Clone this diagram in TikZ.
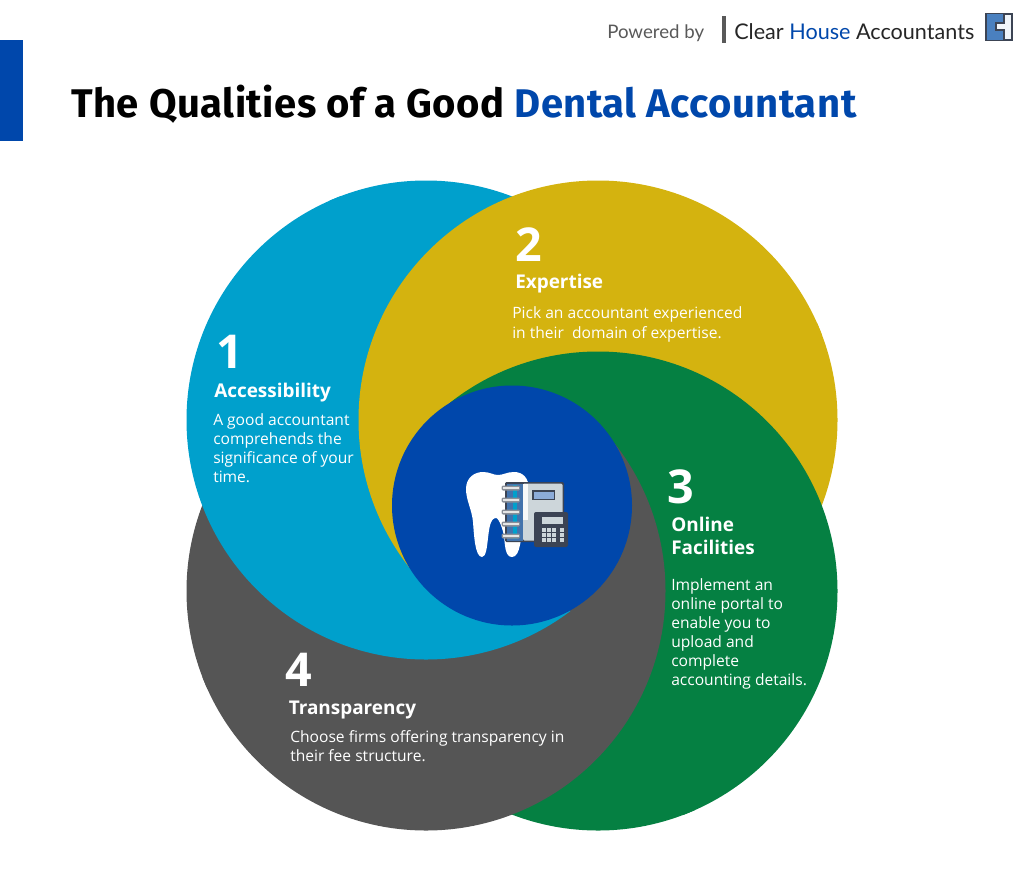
\documentclass[tikz,border=0pt]{standalone}
\usepackage{fontspec}
\setmainfont{Open Sans}
\newfontfamily\titlefont[LetterSpace=1.3]{Fira Sans}
\newfontfamily\logofont{Lato}
\usetikzlibrary{positioning}
\definecolor{royalblue}{RGB}{0,71,171}
\definecolor{petalcyan}{RGB}{0,160,204}
\definecolor{petalgold}{RGB}{212,179,15}
\definecolor{petalgreen}{RGB}{5,128,66}
\definecolor{petalgray}{RGB}{85,85,85}
\definecolor{logoblue}{RGB}{74,128,191}
\definecolor{inkdark}{RGB}{60,68,84}
\definecolor{pagegray}{RGB}{205,214,218}
\begin{document}
\begin{tikzpicture}[x=0.75pt, y=-0.75pt,
    numeral/.style={anchor=base west, inner sep=0pt, text=white, font=\fontsize{35}{35}\selectfont\bfseries},
    heading/.style={anchor=base west, inner sep=0pt, text=white, align=left, font=\fontsize{14.2}{17.2}\selectfont\bfseries},
    bodytext/.style={anchor=north west, inner sep=0pt, text=white, align=left, font=\fontsize{11.7}{14.25}\selectfont}]
    \useasboundingbox (0,0) rectangle (1024,868);

    % Overlapping circles, each wedge has its own stacking order
    \coordinate (hubpoint) at (512,505.5);
    \coordinate (cyancentre) at (426,420);
    \coordinate (goldcentre) at (598,420);
    \coordinate (greencentre) at (598,591);
    \coordinate (graycentre) at (426,591);
    \foreach \ang/\cola/\pta/\colb/\ptb/\colc/\ptc/\cold/\ptd in {
        60/petalgold/goldcentre/petalgreen/greencentre/petalgray/graycentre/petalcyan/cyancentre,
        150/petalgreen/greencentre/petalgray/graycentre/petalcyan/cyancentre/petalgold/goldcentre,
        240/petalgray/graycentre/petalcyan/cyancentre/petalgold/goldcentre/petalgreen/greencentre,
        -30/petalcyan/cyancentre/petalgold/goldcentre/petalgreen/greencentre/petalgray/graycentre}{
        \begin{scope}
            \clip (hubpoint) -- ([shift={(\ang-1:900)}]hubpoint) -- ([shift={(\ang+45:1300)}]hubpoint) -- ([shift={(\ang+91:900)}]hubpoint) -- cycle;
            \begin{scope}[transparency group]
                \fill[\cola] (\pta) circle (239.5);
                \fill[\colb] (\ptb) circle (239.5);
                \fill[\colc] (\ptc) circle (239.5);
                \fill[\cold] (\ptd) circle (239.5);
            \end{scope}
        \end{scope}
    }
    \node[circle, fill=royalblue, minimum size=180pt, inner sep=0pt] (hub) at (hubpoint) {};

    % Tooth
    \fill[white] (466,489) .. controls (466,478) and (474,472) .. (483,472)
        .. controls (490,472) and (493,475) .. (498,475)
        .. controls (503,475) and (507,472) .. (514,472)
        .. controls (523,472) and (529,478) .. (529,490)
        .. controls (529,500) and (525,510) .. (523,522)
        .. controls (521,535) and (521,557) .. (512,557)
        .. controls (505,557) and (505,545) .. (504,536)
        .. controls (503,530) and (499,518) .. (496,518)
        .. controls (490,518) and (489,530) .. (488,538)
        .. controls (487,547) and (486,557) .. (482,557)
        .. controls (475,557) and (474,535) .. (473,522)
        .. controls (472,510) and (466,500) .. (466,489) -- cycle;
    % Notebook
    \fill[rounded corners=1pt, inkdark] (505,482) rectangle (564,542);
    \fill[rounded corners=1pt, pagegray] (523,483.5) rectangle (562.5,540.5);
    \fill[white!85!pagegray] (523,483.5) rectangle (528,520);
    \fill[logoblue!90!black] (506.5,483.5) rectangle (523,540.5);
    \fill[petalcyan] (513,485) rectangle (517,539);
    \fill[inkdark] (532,490) rectangle (555,500);
    \fill[royalblue!45!white] (533.5,491.5) rectangle (553.5,498.5);
    \foreach \ringy in {488,500,512,524,536}{
        \fill[rounded corners=1pt, inkdark!60!white] (501.5,\ringy-2.5) rectangle (520,\ringy+2.5);
        \fill[white!90!black] (503,\ringy-1) rectangle (518.5,\ringy+1);
    }
    % Calculator
    \fill[rounded corners=1.5pt, inkdark] (534,512) rectangle (568,547);
    \fill[pagegray] (542,517) rectangle (563,523.5);
    \foreach \keyx in {542,547,552}{
        \foreach \keyy in {528,533,538}{
            \fill[pagegray] (\keyx,\keyy) rectangle ++(4,4);
        }
    }
    \foreach \keyy in {528,533,538}{
        \fill[pagegray] (560,\keyy) rectangle ++(4,4);
    }

    % Header
    \fill[royalblue] (0,40) rectangle (23,141);
    \node[anchor=base west, inner sep=0pt, font=\titlefont\fontsize{30}{30}\selectfont\bfseries] (title) at (71,117)
        {The Qualities of a Good \textcolor{royalblue}{Dental Accountant}};

    % Logo
    \node[anchor=base west, inner sep=0pt, text=black!65, font=\logofont\fontsize{14}{14}\selectfont] (powered) at (607,38) {Powered by};
    \fill[black!65] (722,16) rectangle (726,43);
    \node[anchor=base west, inner sep=0pt, text=black!85, font=\logofont\fontsize{16.2}{16.2}\selectfont] (brand) at (734,39)
        {Clear \textcolor{royalblue}{House} Accountants};
    \fill[logoblue, draw=inkdark, line width=1pt] (986,13.5) rectangle (1012.5,40.5);
    \fill[white!92!logoblue, draw=inkdark, line width=1pt] (1004,14) -- (1012,14) -- (1012,40) -- (1004,40) -- (1004,30) -- (996,30) -- (996,23) -- (1004,23) -- cycle;

    % Labels
    \node[numeral] (numberone) at (216,368) {1};
    \node[heading] (accessibility) at (214,397) {Accessibility};
    \node[bodytext] (accessibilitytext) at (213,413) {A good accountant\\comprehends the\\significance of your\\time.};

    \node[numeral] (numbertwo) at (515,261) {2};
    \node[heading] (expertise) at (515,288) {Expertise};
    \node[bodytext, font=\fontsize{11.7}{15}\selectfont] (expertisetext) at (512,306) {Pick an accountant experienced\\in their\ \ domain of expertise.};

    \node[numeral] (numberthree) at (667,503) {3};
    \node[heading] (online) at (671,554) {Online\\Facilities};
    \node[bodytext] (onlinetext) at (671,578) {Implement an\\online portal to\\enable you to\\upload and\\complete\\accounting details.};

    \node[numeral] (numberfour) at (285,686) {4};
    \node[heading] (transparency) at (288.5,714) {Transparency};
    \node[bodytext] (transparencytext) at (290,730) {Choose firms offering transparency in\\their fee structure.};
\end{tikzpicture}
\end{document}
